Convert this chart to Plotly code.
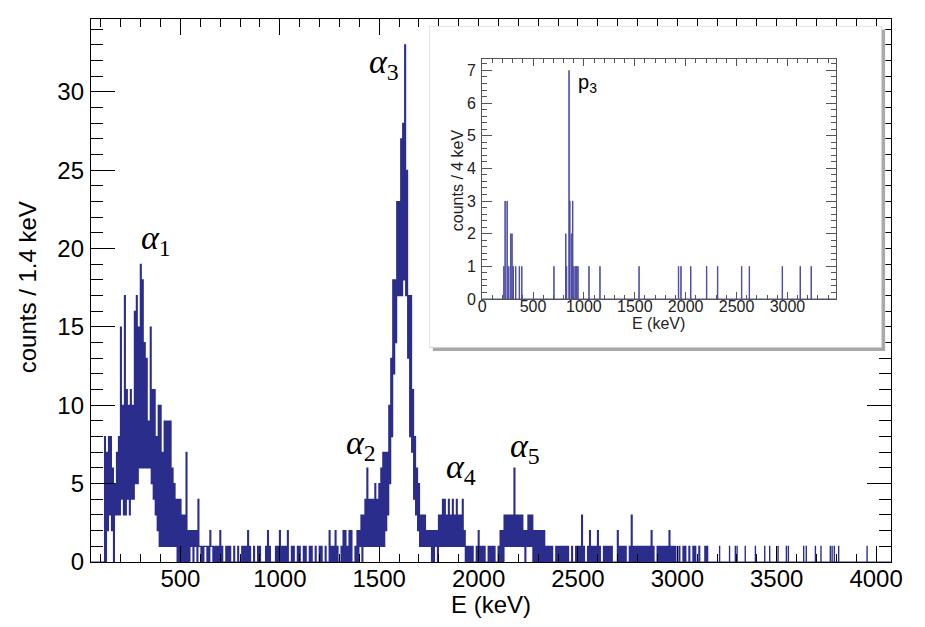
import plotly.graph_objects as go

# ---- main spectrum, counts / 1.4 keV ----
# The 1.4 keV bins are narrower than one pixel, so each 10 keV step keeps the
# highest and lowest count drawn inside it.
step_start_keV = 118
step_keV = 10
env_hi = [
    8, 7, 8, 8, 6, 5, 7, 8, 15, 10,
    17, 11, 10, 11, 10, 16, 17, 15, 19, 18,
    14, 13, 9, 15, 11, 11, 8, 10, 10, 7,
    9, 9, 9, 9, 6, 5, 4, 4, 4, 3,
    3, 7, 2, 2, 2, 2, 2, 4, 1, 1,
    1, 1, 1, 2, 1, 1, 1, 1, 2, 1,
    0, 1, 1,
    1, 0, 1, 0, 1, 0, 1, 1, 1, 2,
    1, 0, 1, 0, 1, 1, 0, 0, 1, 2,
    1, 0, 0, 1, 1, 2, 1, 1, 1, 2,
    0, 1, 1, 0, 1, 1, 0, 1, 1, 0,
    1, 1, 0, 1, 0, 1, 1, 0, 1, 0,
    2, 1, 1, 2, 1, 0, 1, 2, 2, 1,
    2, 2, 0, 1, 2, 2,
    3, 3, 4, 6, 4, 4, 4, 5, 4, 5,
    6, 7, 7, 7, 10, 13, 18, 18, 23, 23,
    27, 28, 33, 25, 17, 17, 11, 8, 6, 5,
    3, 3, 3, 2, 2, 2,
    2, 2, 2, 3, 3, 4, 4, 3, 4, 3,
    4, 3, 4, 3, 3, 4, 2, 1, 1, 1,
    1, 0, 1, 2, 1, 1, 1, 0, 1, 1,
    1, 1, 0, 1, 2, 2, 3, 3, 3, 3,
    3, 6, 3, 3,
    3, 3, 2, 2, 3, 3, 3, 2, 2, 2, 2, 2, 2, 1,
    1, 1, 1, 0, 1, 1, 1, 1, 1, 1,
    1, 0, 1, 0, 1, 1, 1, 3, 1, 0,
    1, 2, 1, 1, 1, 2, 1, 0, 1, 1,
    1, 1, 1, 0, 0, 2, 1, 1, 1, 1,
    0, 1, 3, 1, 1, 1, 1, 1, 1, 1,
    1, 1, 2, 1, 0, 1, 1, 1, 1, 1,
    1, 2, 1, 1, 1, 0, 1, 0, 1, 1,
    0, 1, 0, 1, 1, 0, 1, 0, 0, 1,
    1, 0,
]
env_lo = [
    0, 2, 3, 2, 0, 3, 3, 3, 4, 3,
    3, 4, 3, 4, 4, 5, 5, 6, 6, 6,
    6, 6, 6, 5, 4, 3, 2, 1, 1, 1,
    1, 1, 1, 1, 1, 1, 0, 0, 0, 0,
    0, 0, 0, 1, 0, 1, 0, 1, 0, 0,
    1, 0, 0, 1, 0, 0, 0, 0, 0, 0,
    0, 0, 0,
    0, 0, 0, 0, 0, 0, 0, 0, 0, 0,
    0, 0, 0, 0, 0, 0, 0, 0, 0, 0,
    0, 0, 0, 0, 0, 0, 0, 0, 0, 0,
    0, 0, 0, 0, 0, 0, 0, 0, 0, 0,
    0, 0, 0, 0, 0, 0, 0, 0, 0, 0,
    0, 0, 0, 0, 0, 0, 0, 0, 0, 0,
    0, 0, 0, 0, 0, 1,
    0, 1, 1, 1, 1, 1, 1, 1, 1, 1,
    1, 1, 2, 3, 5, 8, 12, 14, 17, 17,
    17, 18, 17, 13, 8, 7, 4, 3, 2, 1,
    1, 1, 1, 1, 1, 0,
    0, 1, 0, 1, 1, 1, 1, 1, 1, 1,
    1, 1, 1, 1, 1, 1, 0, 0, 0, 0,
    0, 0, 0, 0, 0, 0, 0, 0, 0, 0,
    0, 0, 0, 0, 0, 0, 1, 1, 1, 1,
    1, 1, 1, 1,
    1, 1, 0, 1, 1, 1, 0, 0, 0, 0, 0, 0, 0, 0,
] + [0] * 82

# isolated single counts at high energy
single_keV = [3212, 3262, 3291, 3300, 3341, 3392, 3439, 3464, 3506, 3548,
              3558, 3635, 3648, 3694, 3722, 3769, 3778, 3789, 3811, 3954]
bin_keV = 1.4

# ---- inset spectrum, counts / 4 keV ----
inset_keV = [212, 224, 244, 260, 280, 292, 304, 328, 364, 388,
             704, 820, 828, 852, 860, 876, 888, 900, 916, 928,
             940, 1048, 1156, 1540, 1928, 1952, 2048, 2204, 2312, 2548,
             2624, 2948, 3124, 3232]
inset_counts = [1, 3, 3, 1, 2, 2, 1, 1, 1, 1,
                1, 2, 1, 7, 3, 2, 3, 1, 1, 1,
                1, 1, 1, 1, 1, 1, 1, 1, 1, 1,
                1, 1, 1, 1]
inset_bin_keV = 4

main_range = [50, 4075]
inset_range = [0, 3480]

# histogram outlines as step lines
mx, my = [main_range[0]], [0]
for k, (hi, lo) in enumerate(zip(env_hi, env_lo)):
    e = step_start_keV + k * step_keV
    mx += [e, e + step_keV / 2]
    my += [hi, lo]
mx.append(step_start_keV + len(env_hi) * step_keV)
my.append(0)
for e in single_keV:
    mx += [e, e + bin_keV]
    my += [1, 0]
mx.append(main_range[1])
my.append(0)

ix, iy = [inset_range[0]], [0]
for e, c in zip(inset_keV, inset_counts):
    ix += [e, e + inset_bin_keV]
    iy += [c, 0]
ix.append(inset_range[1])
iy.append(0)

fig = go.Figure()
fig.add_trace(go.Scatter(x=mx, y=my, mode="lines", line_shape="hv",
                         line=dict(color="#2b2d8c", width=1.1),
                         xaxis="x", yaxis="y", hoverinfo="skip"))

# inset panel (drop shadow + white box) drawn in its own hidden subplot
fig.add_trace(go.Scatter(x=[0.008, 1, 1, 0.008, 0.008], y=[0, 0, 0.989, 0.989, 0],
                         mode="lines", fill="toself", fillcolor="#a9a9a9",
                         line=dict(width=0), xaxis="x2", yaxis="y2", hoverinfo="skip"))
fig.add_trace(go.Scatter(x=[0, 0.992, 0.992, 0, 0], y=[0.011, 0.011, 1, 1, 0.011],
                         mode="lines", fill="toself", fillcolor="white",
                         line=dict(width=1, color="#d0d0d0"),
                         xaxis="x2", yaxis="y2", hoverinfo="skip"))

fig.add_trace(go.Scatter(x=ix, y=iy, mode="lines", line_shape="hv",
                         line=dict(color="#4b4ba6", width=1),
                         xaxis="x3", yaxis="y3", hoverinfo="skip"))

font = "Liberation Sans, Arial, Helvetica, sans-serif"
serif = "Liberation Serif, DejaVu Serif, serif"

# page body keeps an 8 px margin, so the figure is 8 px smaller and the
# top/left margins 8 px tighter
fig.update_layout(
    width=917, height=619,
    margin=dict(l=83, r=34, t=11, b=65),
    paper_bgcolor="white", plot_bgcolor="white",
    showlegend=False,
    xaxis=dict(domain=[0, 1], anchor="y", range=main_range, tick0=0, dtick=500,
               ticks="inside", ticklen=16, tickcolor="black", tickwidth=1,
               showline=True, linecolor="black", linewidth=1.3, mirror="allticks",
               showgrid=False, zeroline=False, ticklabelstandoff=-5,
               tickfont=dict(family=font, size=24, color="black"),
               minor=dict(ticks="inside", ticklen=8, tick0=0, dtick=100,
                          tickcolor="black", showgrid=False)),
    yaxis=dict(domain=[0, 1], anchor="x", range=[0, 34.65], tick0=0, dtick=5,
               ticks="inside", ticklen=24, tickcolor="black", tickwidth=1,
               showline=True, linecolor="black", linewidth=1.3, mirror="allticks",
               showgrid=False, zeroline=False, ticklabelstandoff=1,
               tickfont=dict(family=font, size=24, color="black"),
               minor=dict(ticks="inside", ticklen=12, tick0=0, dtick=1,
                          tickcolor="black", showgrid=False)),
    xaxis2=dict(domain=[0.4227, 0.9929], anchor="y2", range=[0, 1], visible=False),
    yaxis2=dict(domain=[0.3886, 0.9871], anchor="x2", range=[0, 1], visible=False),
    xaxis3=dict(domain=[0.4889, 0.9316], anchor="y3", range=inset_range, tick0=0,
                dtick=500, ticks="inside", ticklen=7, tickcolor="#555",
                showline=True, linecolor="#555", linewidth=1, mirror="allticks",
                showgrid=False, zeroline=False, ticklabelstandoff=-7,
                tickfont=dict(family=font, size=16, color="#222"),
                minor=dict(ticks="inside", ticklen=4, tick0=0, dtick=100,
                           tickcolor="#555", showgrid=False)),
    yaxis3=dict(domain=[0.4843, 0.9263], anchor="x3", range=[0, 7.35], tick0=0,
                dtick=1, ticks="inside", ticklen=10, tickcolor="#555",
                showline=True, linecolor="#555", linewidth=1, mirror="allticks",
                showgrid=False, zeroline=False, ticklabelstandoff=2,
                tickfont=dict(family=font, size=16, color="#222"),
                minor=dict(ticks="inside", ticklen=5, tick0=0, dtick=0.2,
                           tickcolor="#555", showgrid=False)),
)

annotations = [
    dict(text="counts / 1.4 keV", x=-0.080, y=0.506, textangle=-90,
         font=dict(family=font, size=24, color="black")),
    dict(text="E (keV)", x=0.5, y=-0.079,
         font=dict(family=font, size=24, color="black")),
    dict(text="counts / 4 keV", x=0.459, y=0.7035, textangle=-90,
         font=dict(family=font, size=16, color="#222")),
    dict(text="E (keV)", x=0.709, y=0.439,
         font=dict(family=font, size=16, color="#222")),
]
for a in annotations:
    a.update(xref="paper", yref="paper", xanchor="center", yanchor="middle",
             showarrow=False)
annotations.append(dict(text="p<sub>3</sub>", xref="x3", yref="y3", x=1032, y=6.6,
                        xanchor="center", yanchor="middle", showarrow=False,
                        font=dict(family=font, size=20, color="black")))
# peak labels alpha_1 ... alpha_5
for name, ex, cy in [("1", 379, 20.55), ("2", 1409, 7.45), ("3", 1524, 31.8),
                     ("4", 1912, 5.92), ("5", 2234, 7.3)]:
    annotations.append(dict(text="<i>α</i><sub>" + name + "</sub>", xref="x", yref="y",
                            x=ex, y=cy, xanchor="center", yanchor="middle",
                            showarrow=False,
                            font=dict(family=serif, size=34, color="black")))
fig.update_layout(annotations=annotations)

fig.write_html("out.html")
